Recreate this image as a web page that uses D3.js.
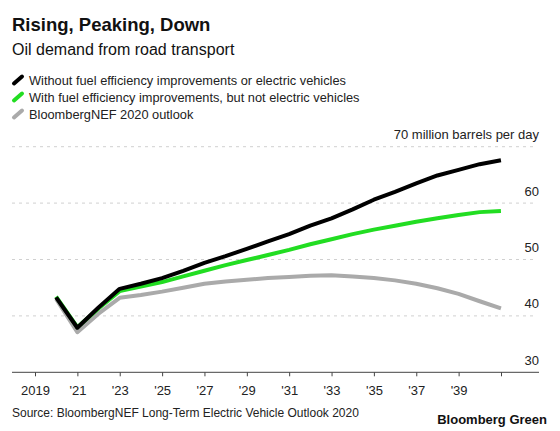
<!DOCTYPE html>
<html><head><meta charset="utf-8">
<script src="https://cdn.jsdelivr.net/npm/d3@7"></script>
<style>
html,body{margin:0;padding:0;background:#fff;}
text{font-family:"Liberation Sans",Arial,Helvetica,sans-serif;}
</style></head>
<body>
<svg id="c" width="560" height="431"></svg>
<script>
const years = d3.range(2019, 2041);
const noImprovements = [43.3,37.9,41.5,44.8,45.7,46.7,48.0,49.4,50.6,51.9,53.2,54.5,56.0,57.3,58.9,60.6,62.0,63.5,64.9,65.9,66.9,67.6];
const withEfficiency = [43.4,38.0,41.3,44.4,45.2,46.0,47.0,48.0,49.0,49.9,50.8,51.7,52.7,53.6,54.5,55.3,56.0,56.7,57.3,57.9,58.4,58.6];
const bnefOutlook = [43.0,37.1,40.4,43.2,43.7,44.3,45.0,45.7,46.1,46.4,46.7,46.9,47.1,47.2,47.0,46.7,46.3,45.7,44.9,43.9,42.6,41.35];
const seriesNames = ["Without fuel efficiency improvements or electric vehicles","With fuel efficiency improvements, but not electric vehicles","BloombergNEF 2020 outlook"];
const seriesColors = ["#000000","#22dd22","#aaaaaa"];
const yTicks = [30,40,50,60,70];
const xTickYears = d3.range(2019, 2042, 2);

const svg = d3.select("#c");
const x = d3.scaleTime().domain([new Date(2019,0,1), new Date(2041,0,1)]).range([35, 501]);
const y = d3.scaleLinear().domain([30,70]).range([372.3,146.7]);
const left = 12, right = 539;

// title
svg.append("text").attr("x",12).attr("y",31).attr("font-size",18.5).attr("font-weight","bold").attr("fill","#111").text("Rising, Peaking, Down");
svg.append("text").attr("x",12).attr("y",55).attr("font-size",16).attr("fill","#111").text("Oil demand from road transport");

// legend
seriesNames.forEach((n,i)=>{
  const yy = 80 + i*17;
  svg.append("line").attr("x1",14).attr("y1",yy+3.5).attr("x2",22).attr("y2",yy-3.5)
    .attr("stroke",seriesColors[i]).attr("stroke-width",4).attr("stroke-linecap","round");
  svg.append("text").attr("x",29).attr("y",yy+5).attr("font-size",12.8).attr("fill","#222").text(n);
});

// gridlines
svg.append("g").selectAll("line").data(yTicks.filter(t=>t>30)).join("line")
  .attr("x1",left).attr("x2",535).attr("y1",d=>y(d)).attr("y2",d=>y(d))
  .attr("stroke","#d0d0d0").attr("stroke-width",1).attr("stroke-dasharray","3,4");

// y labels
svg.append("g").selectAll("text").data(yTicks).join("text")
  .attr("x",right).attr("y",d=>y(d)-7.5).attr("text-anchor","end").attr("font-size",13).attr("fill","#222")
  .text(d=>d===70?"70 million barrels per day":d);

// x axis
const xAxis = d3.axisBottom(x)
  .tickValues(xTickYears.map(yr=>new Date(yr,0,1)))
  .tickSize(4).tickPadding(9.5)
  .tickFormat(d=>{const yr=d.getFullYear(); if(yr===2019) return "2019"; if(yr===2041) return ""; return "'"+String(yr).slice(2);});
const gx = svg.append("g").attr("transform",`translate(0,${y(30)})`).call(xAxis);
gx.select(".domain").remove();
gx.selectAll("line").attr("stroke","#444");
gx.selectAll("text").attr("font-size",13).attr("fill","#222").attr("font-family","'Liberation Sans',Arial,sans-serif");
svg.append("line").attr("x1",left).attr("x2",right).attr("y1",y(30)).attr("y2",y(30)).attr("stroke","#444").attr("stroke-width",1);

// lines
const line = d3.line().x((d,i)=>x(new Date(years[i],11,31))).y(d=>y(d));
[bnefOutlook, withEfficiency, noImprovements].forEach((s,k)=>{
  const idx = 2-k;
  svg.append("path").attr("d",line(s)).attr("fill","none")
    .attr("stroke",seriesColors[idx]).attr("stroke-width",4).attr("stroke-linejoin","round");
});

// source
svg.append("text").attr("x",12).attr("y",417).attr("font-size",12).attr("fill","#222").text("Source: BloombergNEF Long-Term Electric Vehicle Outlook 2020");
svg.append("text").attr("x",547).attr("y",424).attr("text-anchor","end").attr("font-size",13).attr("font-weight","bold").attr("fill","#111").text("Bloomberg Green");
</script>
</body></html>
